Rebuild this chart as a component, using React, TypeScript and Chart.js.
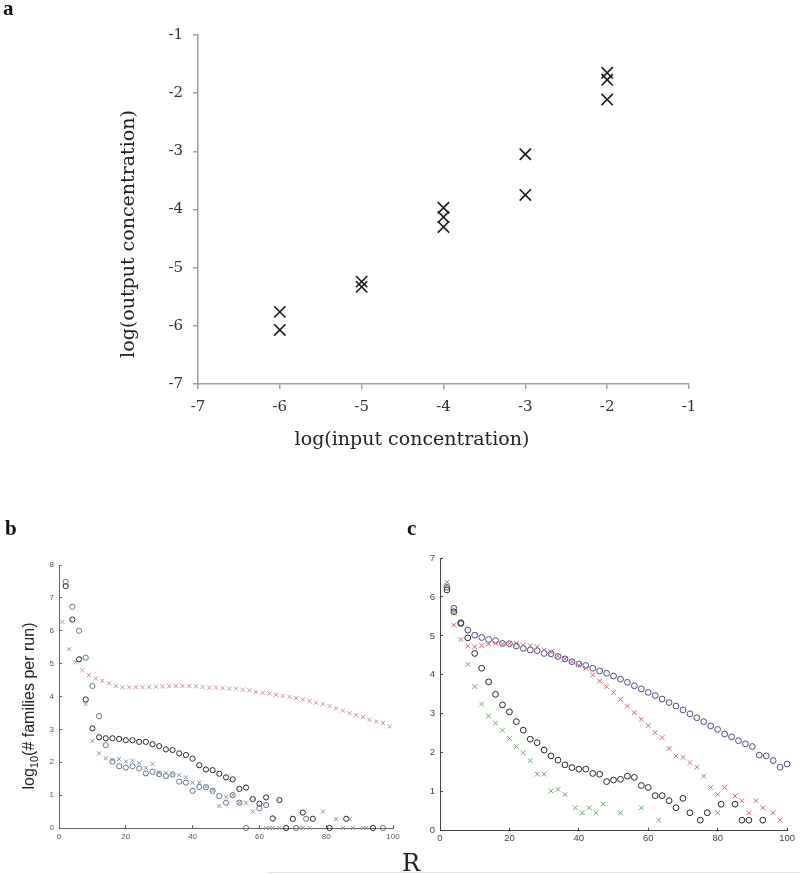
import React, { useEffect, useRef } from "react";
import { Chart, registerables } from "chart.js";
Chart.register(...registerables);

// ---------- Panel a ----------
const aInput = [-6, -6, -5, -5, -4, -4, -4, -3, -3, -2, -2, -2];
const aOutput = [-5.76, -6.07, -5.24, -5.33, -3.97, -4.13, -4.3, -3.05, -3.75, -1.65, -1.77, -2.11];
const aTicks = [-7, -6, -5, -4, -3, -2, -1];

// ---------- Panel b ----------
const bRedR = [1, 3, 5, 7, 9, 11, 13, 15, 17, 19, 21, 23, 25, 27, 29, 31, 33, 35, 37, 39, 41, 43, 45, 47, 49, 51, 53, 55, 57, 59, 61, 63, 65, 67, 69, 71, 73, 75, 77, 79, 81, 83, 85, 87, 89, 91, 93, 95, 97, 99];
const bRedY = [6.27, 5.44, 5.04, 4.8, 4.65, 4.55, 4.48, 4.4, 4.32, 4.28, 4.28, 4.28, 4.28, 4.29, 4.3, 4.31, 4.31, 4.32, 4.32, 4.32, 4.31, 4.29, 4.27, 4.27, 4.26, 4.24, 4.24, 4.21, 4.19, 4.14, 4.11, 4.09, 4.05, 4.02, 3.99, 3.95, 3.91, 3.86, 3.81, 3.77, 3.71, 3.64, 3.57, 3.49, 3.44, 3.37, 3.29, 3.24, 3.19, 3.09];
const bBlackR = [2, 4, 6, 8, 10, 12, 14, 16, 18, 20, 22, 24, 26, 28, 30, 32, 34, 36, 38, 40, 42, 44, 46, 48, 50, 52, 54, 56, 58, 60, 62, 64, 66, 68, 70, 73, 76, 81, 86, 94];
const bBlackY = [7.36, 6.34, 5.13, 3.91, 3.03, 2.76, 2.73, 2.73, 2.71, 2.67, 2.67, 2.62, 2.62, 2.55, 2.49, 2.39, 2.37, 2.27, 2.22, 2.11, 1.91, 1.78, 1.76, 1.65, 1.54, 1.48, 1.19, 1.23, 0.88, 0.74, 0.93, 0.29, 0.85, 0, 0.28, 0.47, 0.28, 0, 0.28, 0];
const bBlueR = [2, 4, 6, 8, 10, 12, 14, 16, 18, 20, 22, 24, 26, 28, 30, 32, 34, 36, 38, 40, 42, 44, 46, 48, 50, 52, 54, 56, 58, 60, 62, 64, 71, 74, 97];
const bBlueY = [7.49, 6.73, 6.0, 5.18, 4.32, 3.4, 2.52, 2.02, 1.88, 1.84, 1.88, 1.81, 1.66, 1.71, 1.64, 1.58, 1.63, 1.41, 1.38, 1.13, 1.25, 1.24, 1.13, 0.97, 0.77, 1.0, 0.77, 0, 0.88, 0.6, 0.7, 0.29, 0, 0.28, 0];
const bGreenR = [8, 10, 12, 14, 16, 18, 20, 22, 24, 26, 28, 30, 32, 34, 36, 38, 40, 42, 44, 46, 48, 50, 52, 54, 56, 58, 62, 63, 64, 66, 72, 73, 75, 79, 83, 85, 87, 88, 91, 92];
const bGreenY = [3.77, 2.65, 2.27, 2.12, 2.07, 2.1, 2.02, 2.05, 1.97, 1.83, 1.95, 1.68, 1.68, 1.64, 1.61, 1.54, 1.38, 1.38, 1.26, 1.15, 0.67, 0.95, 1.0, 0.77, 0.77, 0.5, 0, 0, 0, 0, 0, 0, 0, 0.5, 0.27, 0, 0.27, 0, 0, 0];
const bXTicks = [0, 20, 40, 60, 80, 100];
const bYTicks = [0, 1, 2, 3, 4, 5, 6, 7, 8];

// ---------- Panel c ----------
const cBlueR = [2, 4, 6, 8, 10, 12, 14, 16, 18, 20, 22, 24, 26, 28, 30, 32, 34, 36, 38, 40, 42, 44, 46, 48, 50, 52, 54, 56, 58, 60, 62, 64, 66, 68, 70, 72, 74, 76, 78, 80, 82, 84, 86, 88, 90, 92, 94, 96, 98, 100];
const cBlueY = [6.25, 5.71, 5.34, 5.15, 5.02, 4.96, 4.91, 4.88, 4.81, 4.8, 4.74, 4.68, 4.64, 4.62, 4.55, 4.54, 4.47, 4.41, 4.34, 4.28, 4.24, 4.17, 4.1, 4.04, 3.97, 3.89, 3.81, 3.72, 3.64, 3.55, 3.47, 3.38, 3.29, 3.2, 3.1, 3.0, 2.9, 2.8, 2.69, 2.6, 2.48, 2.41, 2.31, 2.23, 2.16, 1.94, 1.92, 1.8, 1.63, 1.71];
const cRedR = [2, 4, 6, 8, 10, 12, 14, 16, 18, 20, 22, 24, 26, 28, 30, 32, 34, 36, 38, 40, 42, 44, 46, 48, 50, 52, 54, 56, 58, 60, 62, 64, 66, 68, 70, 72, 74, 76, 78, 80, 82, 85, 87, 89, 91, 93, 96, 98];
const cRedY = [6.3, 5.28, 4.91, 4.74, 4.72, 4.75, 4.79, 4.81, 4.79, 4.8, 4.81, 4.77, 4.75, 4.72, 4.64, 4.59, 4.49, 4.41, 4.34, 4.25, 4.17, 4.0, 3.84, 3.7, 3.55, 3.37, 3.2, 3.03, 2.86, 2.7, 2.52, 2.39, 2.11, 1.92, 1.88, 1.75, 1.63, 1.4, 1.11, 0.93, 1.11, 0.89, 0.77, 0.46, 0.77, 0.59, 0.46, 0.27];
const cBlackR = [2, 4, 6, 8, 10, 12, 14, 16, 18, 20, 22, 24, 26, 28, 30, 32, 34, 36, 38, 40, 42, 44, 46, 48, 50, 52, 54, 56, 58, 60, 62, 64, 66, 68, 70, 72, 75, 77, 81, 85, 87, 89, 93];
const cBlackY = [6.18, 5.62, 5.32, 4.95, 4.55, 4.17, 3.82, 3.5, 3.23, 3.05, 2.8, 2.58, 2.35, 2.26, 2.07, 1.92, 1.81, 1.69, 1.62, 1.58, 1.58, 1.47, 1.45, 1.26, 1.3, 1.32, 1.4, 1.37, 1.16, 1.11, 0.9, 0.9, 0.77, 0.59, 0.83, 0.46, 0.27, 0.46, 0.68, 0.68, 0.27, 0.27, 0.27];
const cGreenR = [2, 4, 8, 10, 12, 14, 16, 18, 20, 22, 24, 26, 28, 30, 32, 34, 36, 39, 41, 43, 45, 47, 52, 58, 63, 80];
const cGreenY = [6.38, 5.58, 4.27, 3.7, 3.25, 2.94, 2.76, 2.58, 2.37, 2.16, 2.0, 1.8, 1.45, 1.45, 1.02, 1.06, 0.93, 0.59, 0.46, 0.59, 0.46, 0.68, 0.46, 0.59, 0.27, 0.46];
const cXTicks = [0, 20, 40, 60, 80, 100];
const cYTicks = [0, 1, 2, 3, 4, 5, 6, 7];

const pts = (xs: number[], ys: number[]) => xs.map((x, i) => ({ x, y: ys[i] }));

type Part = { t: string; font: string; dy: number };
type TextItem = {
  text?: string;
  parts?: Part[];
  x: number;
  y: number;
  font?: string;
  color: string;
  align?: CanvasTextAlign;
  baseline?: CanvasTextBaseline;
  rotate?: boolean;
};

const textPlugin = (items: TextItem[]) => ({
  id: "texts",
  afterDraw(chart: any) {
    const ctx: CanvasRenderingContext2D = chart.ctx;
    items.forEach((it) => {
      ctx.save();
      ctx.fillStyle = it.color;
      ctx.translate(it.x, it.y);
      if (it.rotate) ctx.rotate(-Math.PI / 2);
      if (it.parts) {
        let total = 0;
        it.parts.forEach((p) => {
          ctx.font = p.font;
          total += ctx.measureText(p.t).width;
        });
        let cx = -total / 2;
        ctx.textAlign = "left";
        ctx.textBaseline = "middle";
        it.parts.forEach((p) => {
          ctx.font = p.font;
          ctx.fillText(p.t, cx, p.dy);
          cx += ctx.measureText(p.t).width;
        });
      } else {
        ctx.font = it.font || "12px sans-serif";
        ctx.textAlign = it.align || "center";
        ctx.textBaseline = it.baseline || "middle";
        ctx.fillText(it.text || "", 0, 0);
      }
      ctx.restore();
    });
  },
});

function axis(opts: {
  min: number;
  max: number;
  ticks: number[];
  size: number;
  isX: boolean;
  font: any;
  tickColor: string;
  lineColor: string;
  lineWidth: number;
  tickLength: number;
  padding: number;
}) {
  return {
    type: "linear",
    min: opts.min,
    max: opts.max,
    afterFit: (s: any) => {
      if (opts.isX) s.height = opts.size;
      else s.width = opts.size;
    },
    afterBuildTicks: (s: any) => {
      s.ticks = opts.ticks.map((v) => ({ value: v }));
    },
    ticks: {
      autoSkip: false,
      maxRotation: 0,
      font: opts.font,
      color: opts.tickColor,
      padding: opts.padding,
      callback: (v: any) => String(v),
    },
    grid: {
      drawOnChartArea: false,
      drawTicks: true,
      tickLength: opts.tickLength,
      color: opts.lineColor,
      lineWidth: opts.lineWidth,
    },
    border: { display: true, color: opts.lineColor, width: opts.lineWidth },
  };
}

const circleDs = (xs: number[], ys: number[], color: string, r: number) => ({
  data: pts(xs, ys),
  pointStyle: "circle",
  pointRadius: r,
  pointBorderColor: color,
  pointBackgroundColor: "rgba(0,0,0,0)",
  pointBorderWidth: 1,
  clip: false,
});
const crossDs = (xs: number[], ys: number[], color: string, r: number, w = 1) => ({
  data: pts(xs, ys),
  pointStyle: "crossRot",
  pointRadius: r,
  pointBorderColor: color,
  pointBackgroundColor: color,
  pointBorderWidth: w,
  clip: false,
});

function useChart(ref: React.RefObject<HTMLCanvasElement>, make: () => any) {
  useEffect(() => {
    if (!ref.current) return;
    const chart = new Chart(ref.current, make());
    return () => chart.destroy();
  }, []);
}

const baseOpts = {
  animation: false,
  responsive: false,
  maintainAspectRatio: false,
  events: [],
  plugins: { legend: { display: false }, tooltip: { enabled: false }, title: { display: false } },
};

export default function App() {
  const aRef = useRef<HTMLCanvasElement>(null);
  const bRef = useRef<HTMLCanvasElement>(null);
  const cRef = useRef<HTMLCanvasElement>(null);

  const serifTick = { family: "'DejaVu Serif'", size: 15 };
  const sansB = { family: "'Liberation Sans', Arial", size: 8 };
  const sansC = { family: "'Liberation Sans', Arial", size: 9.5 };

  useChart(aRef, () => ({
    type: "scatter",
    data: { datasets: [crossDs(aInput, aOutput, "#1a1a1a", 8, 1.6)] },
    options: {
      ...baseOpts,
      layout: { padding: { left: 0, top: 35, right: 111, bottom: 0 } },
      scales: {
        x: axis({ min: -7, max: -1, ticks: aTicks, size: 86, isX: true, font: serifTick, tickColor: "#333", lineColor: "#a0a0a0", lineWidth: 1.5, tickLength: 5, padding: 9 }),
        y: axis({ min: -7, max: -1, ticks: aTicks, size: 198, isX: false, font: serifTick, tickColor: "#333", lineColor: "#a0a0a0", lineWidth: 1.5, tickLength: 5, padding: 10 }),
      },
    },
    plugins: [
      textPlugin([
        { text: "a", x: 3, y: 15, font: "bold 21px 'Liberation Serif'", color: "#111", align: "left", baseline: "alphabetic" },
        { text: "log(output concentration)", x: 129, y: 234, font: "19px 'DejaVu Serif'", color: "#222", rotate: true },
        { text: "log(input concentration)", x: 412, y: 440, font: "19px 'DejaVu Serif'", color: "#222" },
      ]),
    ],
  }));

  useChart(bRef, () => ({
    type: "scatter",
    data: {
      datasets: [
        crossDs(bRedR, bRedY, "#c98f9a", 2.9),
        crossDs(bGreenR, bGreenY, "#7f9a9c", 2.9),
        circleDs(bBlueR, bBlueY, "#66738c", 2.6),
        circleDs(bBlackR, bBlackY, "#2a2a2a", 2.6),
      ],
    },
    options: {
      ...baseOpts,
      layout: { padding: { left: 0, top: 65, right: 17, bottom: 0 } },
      scales: {
        x: axis({ min: 0, max: 100, ticks: bXTicks, size: 46, isX: true, font: sansB, tickColor: "#555", lineColor: "#666", lineWidth: 1, tickLength: -3, padding: 7 }),
        y: axis({ min: 0, max: 8, ticks: bYTicks, size: 59, isX: false, font: sansB, tickColor: "#555", lineColor: "#666", lineWidth: 1, tickLength: -3, padding: 8 }),
      },
    },
    plugins: [
      textPlugin([
        { text: "b", x: 5, y: 35, font: "bold 21px 'Liberation Serif'", color: "#111", align: "left", baseline: "alphabetic" },
        {
          parts: [
            { t: "log", font: "16px 'Liberation Sans'", dy: 0 },
            { t: "10", font: "11px 'Liberation Sans'", dy: 5 },
            { t: "(# families per run)", font: "16px 'Liberation Sans'", dy: 0 },
          ],
          x: 30,
          y: 206,
          color: "#222",
          rotate: true,
        },
      ]),
    ],
  }));

  useChart(cRef, () => ({
    type: "scatter",
    data: {
      datasets: [
        crossDs(cGreenR, cGreenY, "#6aa86a", 3.3),
        crossDs(cRedR, cRedY, "#d8607a", 3.3),
        circleDs(cBlackR, cBlackY, "#262626", 2.9),
        circleDs(cBlueR, cBlueY, "#4a4a8c", 2.9),
      ],
    },
    options: {
      ...baseOpts,
      layout: { padding: { left: 0, top: 58, right: 12.3, bottom: 0 } },
      scales: {
        x: axis({ min: 0, max: 100, ticks: cXTicks, size: 43.3, isX: true, font: sansC, tickColor: "#444", lineColor: "#444", lineWidth: 1, tickLength: -3, padding: 5 }),
        y: axis({ min: 0, max: 7, ticks: cYTicks, size: 50, isX: false, font: sansC, tickColor: "#444", lineColor: "#444", lineWidth: 1, tickLength: -3, padding: 8 }),
      },
    },
    plugins: [
      textPlugin([
        { text: "c", x: 17, y: 35, font: "bold 21px 'Liberation Serif'", color: "#111", align: "left", baseline: "alphabetic" },
        { text: "R", x: 12, y: 371, font: "24px 'DejaVu Serif'", color: "#222", align: "left", baseline: "alphabetic" },
      ]),
    ],
  }));

  return (
    <div style={{ position: "absolute", left: 0, top: 0, width: 800, height: 874, background: "#fff", overflow: "hidden" }}>
      <canvas ref={aRef} width={800} height={470} style={{ position: "absolute", left: 0, top: 0, width: 800, height: 470 }} />
      <canvas ref={bRef} width={410} height={374} style={{ position: "absolute", left: 0, top: 500, width: 410, height: 374 }} />
      <canvas ref={cRef} width={410} height={374} style={{ position: "absolute", left: 390, top: 500, width: 410, height: 374 }} />
      <div style={{ position: "absolute", left: 267, top: 872, width: 533, height: 0, borderTop: "1px solid #e4e4e4" }} />
    </div>
  );
}
